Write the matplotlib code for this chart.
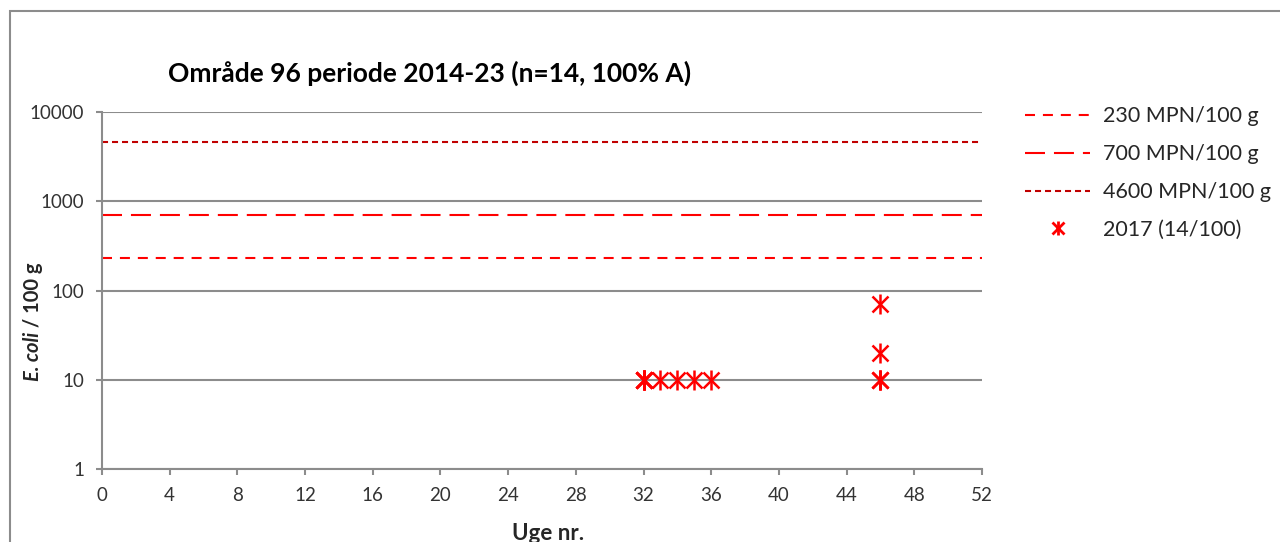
import matplotlib.pyplot as plt
from matplotlib.patches import Rectangle
from matplotlib.lines import Line2D
from matplotlib.legend_handler import HandlerTuple

# data
weeks = [32, 32, 32, 32, 32, 33, 34, 35, 36, 46, 46, 46, 46, 46]
ecoli = [10, 10, 10, 10, 10, 10, 10, 10, 10, 10, 10, 10, 20, 70]
limits = [230, 700, 4600]
limit_labels = ['230 MPN/100 g', '700 MPN/100 g', '4600 MPN/100 g']
series_label = '2017 (14/100)'
title = 'Område 96 periode 2014-23 (n=14, 100% A)'
xticks = list(range(0, 53, 4))
yticks = [1, 10, 100, 1000, 10000]

plt.rcParams['font.family'] = ['Lato', 'DejaVu Sans']
W, H = 1280, 542
fig = plt.figure(figsize=(W / 100, H / 100), dpi=100)

# outer chart frame
fig.patches.append(Rectangle((10 / W, -0.1), 1.2, 1 - 11 / H + 0.1, transform=fig.transFigure,
                             fill=False, edgecolor='#8c8c8c', linewidth=1.5))

ax = fig.add_axes([102 / W, 1 - 469 / H, 880 / W, 357 / H])
ax.set_yscale('log')
ax.set_xlim(0, 52)
ax.set_ylim(1, 10000)
ax.set_xticks(xticks)
ax.set_yticks(yticks)
ax.set_yticklabels([str(v) for v in yticks])
ax.minorticks_off()
for s in ['top', 'right']:
    ax.spines[s].set_visible(False)
for s in ['left', 'bottom']:
    ax.spines[s].set_color('#8c8c8c')
    ax.spines[s].set_linewidth(1.5)
ax.tick_params(colors='#8c8c8c', labelcolor='#333333', labelsize=13.5, width=1.5, length=4)
ax.tick_params(axis='x', pad=9)
ax.tick_params(axis='y', pad=9)
ax.grid(axis='y', color='#8c8c8c', linewidth=1.5)
ax.set_axisbelow(True)

styles = [dict(color='#ff0000', dashes=(4.8, 3.8)),
          dict(color='#ff0000', dashes=(9.6, 4.3)),
          dict(color='#c00000', dashes=(2.9, 1.9))]
handles = []
for val, lab, st in zip(limits, limit_labels, styles):
    h, = ax.plot([0, 52], [val, val], linewidth=1.5, **st, label=lab)
    handles.append(h)

m1, = ax.plot(weeks, ecoli, linestyle='none', marker='x', markersize=12,
              markeredgewidth=1.8, color='#ff0000')
m2, = ax.plot(weeks, ecoli, linestyle='none', marker='|', markersize=15,
              markeredgewidth=1.8, color='#ff0000')

l1 = Line2D([], [], linestyle='none', marker='x', markersize=8, markeredgewidth=2, color='#ff0000')
l2 = Line2D([], [], linestyle='none', marker='|', markersize=10, markeredgewidth=2, color='#ff0000')
fig.legend(handles + [(l1, l2)], limit_labels + [series_label],
           handler_map={tuple: HandlerTuple(ndivide=1)},
           loc='upper left', bbox_to_anchor=(1006 / W, 1 - 87 / H), frameon=False,
           fontsize=15.5, handlelength=3.0, handletextpad=0.6, labelspacing=0.83,
           labelcolor='#262626')

fig.text(430 / W, 1 - 73 / H, title, ha='center', va='center', fontsize=19,
         fontweight='bold', color='#000000')
fig.text(548 / W, 1 - 533 / H, 'Uge nr.', ha='center', va='center', fontsize=16,
         fontweight='bold', color='#262626')

t1 = fig.text(33 / W, 1 - 381 / H, 'E. coli', rotation=90, ha='center', va='bottom',
              fontsize=14.5, fontweight='bold', style='italic', color='#262626')
ax.annotate(' / 100 g', xy=(0.5, 1), xycoords=t1, rotation=90, ha='center', va='bottom',
            fontsize=14.5, fontweight='bold', color='#262626', annotation_clip=False)

fig.savefig('out.png', dpi=100)
